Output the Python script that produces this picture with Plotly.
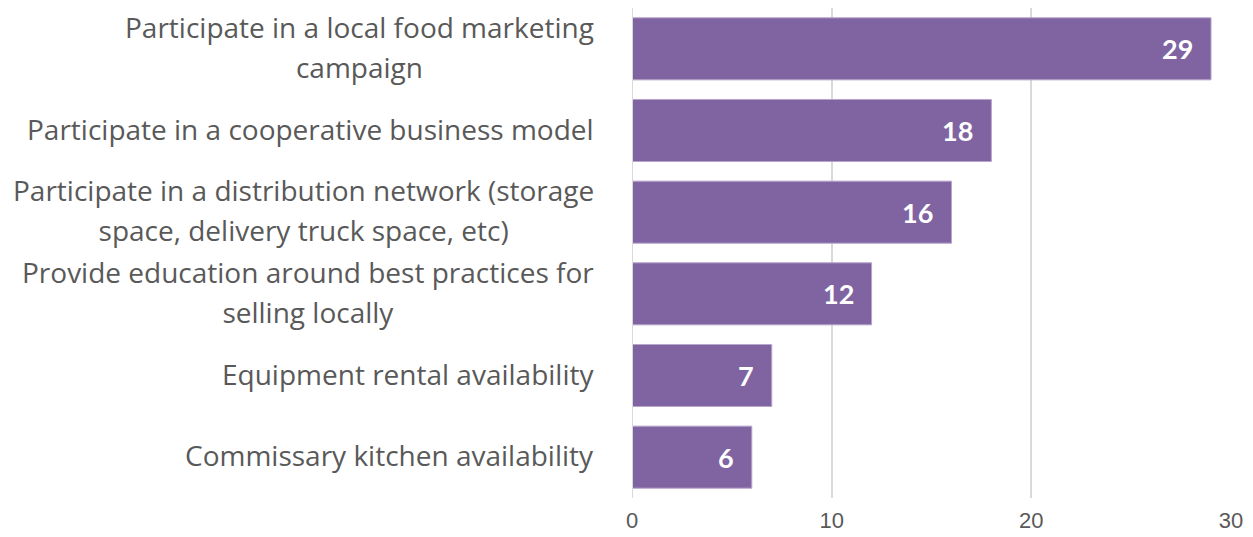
import plotly.graph_objects as go

# Survey responses: interest in local food support options
categories = [
    "Participate in a local food marketing<br>campaign",
    "Participate in a cooperative business model",
    "Participate in a distribution network (storage<br>space, delivery truck space, etc)",
    "Provide education around best practices for<br>selling locally",
    "Equipment rental availability",
    "Commissary kitchen availability",
]
counts = [29, 18, 16, 12, 7, 6]
x_ticks = [0, 10, 20, 30]

BAR = "#8064A2"
TEXT = "#595959"
GRID = "#D9D9D9"
LABEL_FONT = "Open Sans, Lato, sans-serif"

fig = go.Figure(
    go.Bar(
        x=counts,
        y=categories,
        orientation="h",
        marker=dict(color=BAR, line=dict(color="#B7A6CC", width=1)),
        hoverinfo="skip",
    )
)

annotations = []
# Category labels: the outer font size sets the line spacing, the inner span the glyph size
for cat in categories:
    lines = cat.split("<br>")
    text = "<br>".join(f"<span style='font-size:28px'>{ln}</span>" for ln in lines)
    annotations.append(dict(
        x=0, xref="paper", y=cat, yref="y",
        text=text, showarrow=False, xanchor="right", yanchor="middle", align="center",
        xshift=-36, yshift=2,
        font=dict(family=LABEL_FONT, size=31, color=TEXT),
    ))

# Value labels inside bar ends
for cat, v in zip(categories, counts):
    annotations.append(dict(
        x=v, xref="x", y=cat, yref="y",
        text=f"<b>{v}</b>", showarrow=False, xanchor="right", yanchor="middle",
        xshift=-16,
        font=dict(family="Lato, Open Sans, sans-serif", size=27, color="white"),
    ))

fig.update_layout(
    width=1253, height=537,
    margin=dict(l=632, r=22, t=8, b=39, autoexpand=False),
    paper_bgcolor="white", plot_bgcolor="white",
    bargap=0.24,
    showlegend=False,
    annotations=annotations,
    xaxis=dict(
        range=[0, 30], tickvals=x_ticks, showgrid=True, gridcolor=GRID, gridwidth=1.5,
        zeroline=False, showline=False, automargin=False,
        tickfont=dict(family="Liberation Sans, Arial, sans-serif", size=22, color=TEXT),
        ticks="", ticklabelstandoff=7,
    ),
    yaxis=dict(
        autorange="reversed", showticklabels=False, showgrid=False, zeroline=False,
        showline=False, ticks="", automargin=False,
    ),
    shapes=[dict(type="line", xref="x", yref="paper", x0=0, x1=0, y0=0, y1=1,
                 line=dict(color=GRID, width=2))],
)

fig.write_html("out.html")
